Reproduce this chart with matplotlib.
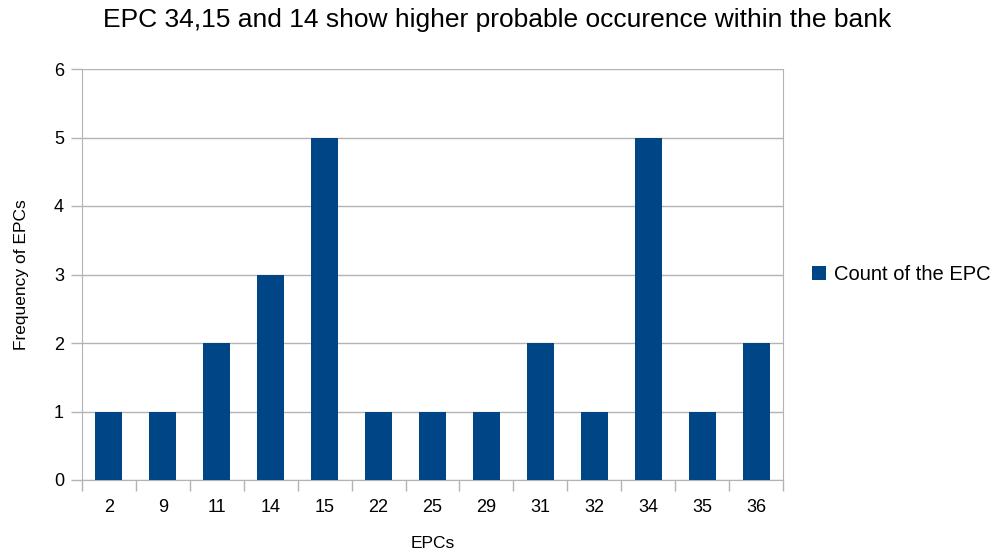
import numpy as np
import matplotlib
matplotlib.use("Agg")
from matplotlib import pyplot as plt

plt.rcParams["font.family"] = ["Liberation Sans", "DejaVu Sans"]

epcs = ["2", "9", "11", "14", "15", "22", "25", "29", "31", "32", "34", "35", "36"]
counts = [1, 1, 2, 3, 5, 1, 1, 1, 2, 1, 5, 1, 2]

fig = plt.figure(figsize=(9.95, 5.54), dpi=100)
ax = fig.add_axes([82 / 995, 1 - 480 / 554, (783 - 82) / 995, (480 - 69) / 554])

x = np.arange(len(epcs))
ax.bar(x, counts, width=0.5, color="#004586", label="Count of the EPC", zorder=3)

ax.set_xlim(-0.5, len(epcs) - 0.5)
ax.set_ylim(0, 6)
ax.set_yticks(range(7))
ax.set_xticks(x)
ax.set_xticklabels(epcs)
ax.set_xticks(np.arange(-0.5, len(epcs)), minor=True)
ax.tick_params(axis="x", which="major", length=0, pad=14, labelsize=13)
ax.tick_params(axis="x", which="minor", length=8, color="#b3b3b3", width=1)
ax.tick_params(axis="y", length=8, color="#b3b3b3", width=1, labelsize=13, pad=5)
ax.grid(axis="y", color="#b3b3b3", linewidth=1, zorder=0)
for s in ["left", "bottom", "right"]:
    ax.spines[s].set_color("#b3b3b3")
ax.spines["top"].set_visible(False)

ax.set_xlabel("EPCs", fontsize=12.5, labelpad=14)
ax.set_ylabel("Frequency of EPCs", fontsize=12.5, labelpad=18)
fig.suptitle("EPC 34,15 and 14 show higher probable occurence within the bank",
             fontsize=19, y=0.985)

ax.legend(loc="center left", bbox_to_anchor=(1.015, 0.5), frameon=False,
          handlelength=0.7, handleheight=0.7, handletextpad=0.4, fontsize=14.5)

fig.savefig("out.png", dpi=100)
